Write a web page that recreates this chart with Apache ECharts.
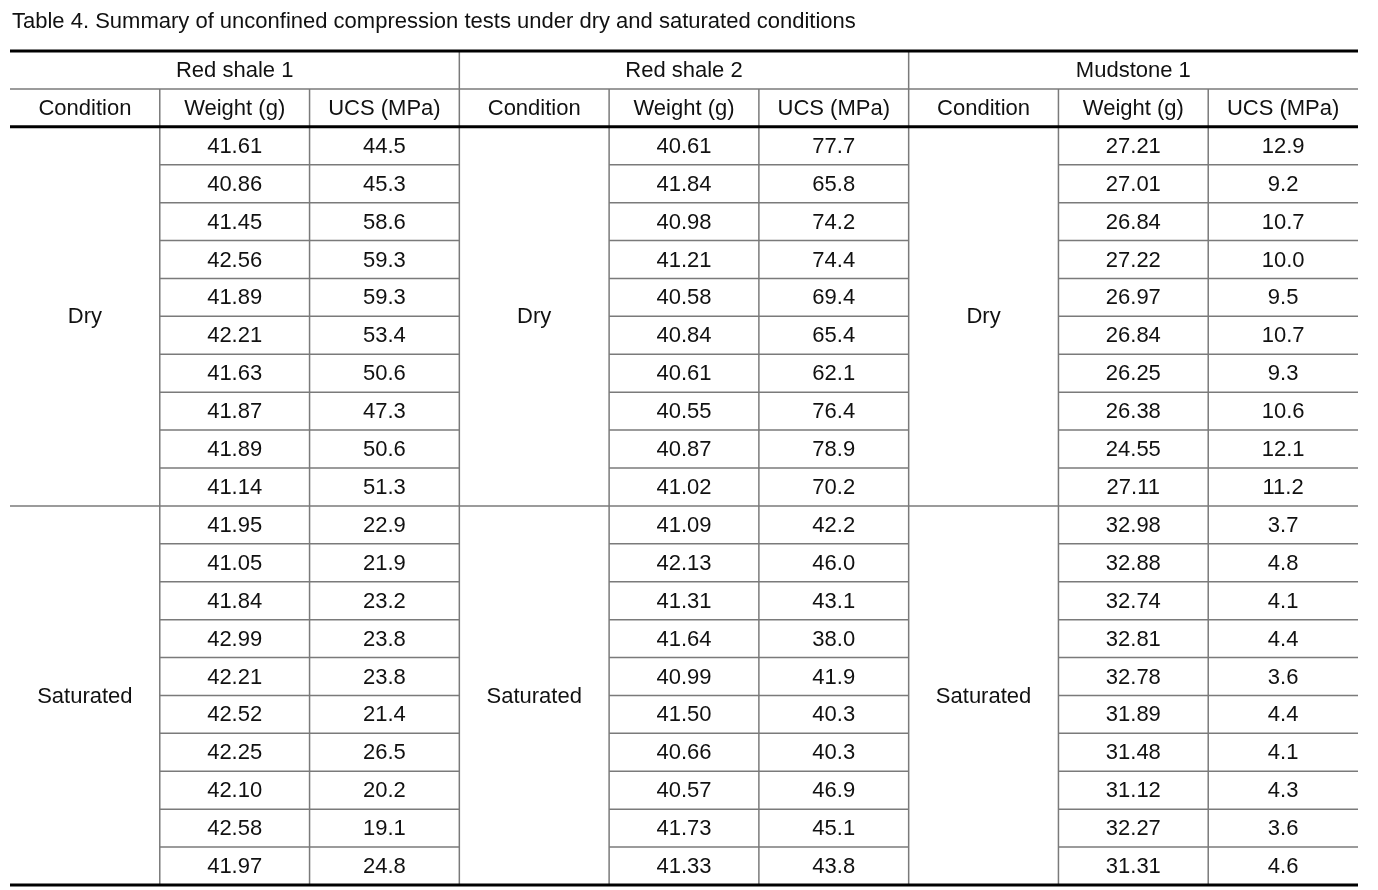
<!DOCTYPE html>
<html>
<head>
<meta charset="utf-8">
<script src="https://cdn.jsdelivr.net/npm/echarts@6/dist/echarts.min.js"></script>
<style>html,body{margin:0;padding:0;background:#fff;}#c{width:1378px;height:890px;}</style>
</head>
<body>
<div id="c"></div>
<script>
const titleText = 'Table 4. Summary of unconfined compression tests under dry and saturated conditions';
const groups = ['Red shale 1', 'Red shale 2', 'Mudstone 1'];
const columnHeaders = ['Condition', 'Weight (g)', 'UCS (MPa)'];
const conditions = ['Dry', 'Saturated'];

const rs1DryWeight = [41.61, 40.86, 41.45, 42.56, 41.89, 42.21, 41.63, 41.87, 41.89, 41.14];
const rs1DryUcs    = [44.5, 45.3, 58.6, 59.3, 59.3, 53.4, 50.6, 47.3, 50.6, 51.3];
const rs1SatWeight = [41.95, 41.05, 41.84, 42.99, 42.21, 42.52, 42.25, 42.10, 42.58, 41.97];
const rs1SatUcs    = [22.9, 21.9, 23.2, 23.8, 23.8, 21.4, 26.5, 20.2, 19.1, 24.8];

const rs2DryWeight = [40.61, 41.84, 40.98, 41.21, 40.58, 40.84, 40.61, 40.55, 40.87, 41.02];
const rs2DryUcs    = [77.7, 65.8, 74.2, 74.4, 69.4, 65.4, 62.1, 76.4, 78.9, 70.2];
const rs2SatWeight = [41.09, 42.13, 41.31, 41.64, 40.99, 41.50, 40.66, 40.57, 41.73, 41.33];
const rs2SatUcs    = [42.2, 46.0, 43.1, 38.0, 41.9, 40.3, 40.3, 46.9, 45.1, 43.8];

const ms1DryWeight = [27.21, 27.01, 26.84, 27.22, 26.97, 26.84, 26.25, 26.38, 24.55, 27.11];
const ms1DryUcs    = [12.9, 9.2, 10.7, 10.0, 9.5, 10.7, 9.3, 10.6, 12.1, 11.2];
const ms1SatWeight = [32.98, 32.88, 32.74, 32.81, 32.78, 31.89, 31.48, 31.12, 32.27, 31.31];
const ms1SatUcs    = [3.7, 4.8, 4.1, 4.4, 3.6, 4.4, 4.1, 4.3, 3.6, 4.6];

// ---- build table structure ----
const groupData = [
  [[rs1DryWeight, rs1DryUcs], [rs1SatWeight, rs1SatUcs]],
  [[rs2DryWeight, rs2DryUcs], [rs2SatWeight, rs2SatUcs]],
  [[ms1DryWeight, ms1DryUcs], [ms1SatWeight, ms1SatUcs]]
];
const nPer = rs1DryWeight.length;
const totalRows = 2 + conditions.length * nPer;
const totalCols = groups.length * 3;

const cells = [];
groups.forEach((g, gi) => {
  cells.push({ box: [gi * 3, 0, gi * 3 + 3, 1], text: g });
  columnHeaders.forEach((h, hi) => cells.push({ box: [gi * 3 + hi, 1, gi * 3 + hi + 1, 2], text: h }));
  conditions.forEach((cond, ci) => {
    const r0 = 2 + ci * nPer;
    cells.push({ box: [gi * 3, r0, gi * 3 + 1, r0 + nPer], text: cond });
    const [w, u] = groupData[gi][ci];
    for (let i = 0; i < nPer; i++) {
      cells.push({ box: [gi * 3 + 1, r0 + i, gi * 3 + 2, r0 + i + 1], text: w[i].toFixed(2) });
      cells.push({ box: [gi * 3 + 2, r0 + i, gi * 3 + 3, r0 + i + 1], text: u[i].toFixed(1) });
    }
  });
});

// rules: [x0, y0, x1, y1, kind]  kind 1 = thick, 0 = thin
const rules = [];
[0, 2, totalRows].forEach(r => rules.push([0, r, totalCols, r, 1]));
[1, 2 + nPer].forEach(r => rules.push([0, r, totalCols, r, 0]));
for (let ci = 0; ci < conditions.length; ci++) {
  for (let i = 1; i < nPer; i++) {
    const r = 2 + ci * nPer + i;
    for (let gi = 0; gi < groups.length; gi++) rules.push([gi * 3 + 1, r, gi * 3 + 3, r, 0]);
  }
}
for (let c = 1; c < totalCols; c++) {
  rules.push([c, c % 3 === 0 ? 0 : 1, c, totalRows, 0]);
}

const FONT = "'Liberation Sans', Arial, sans-serif";
const chart = echarts.init(document.getElementById('c'), null, { renderer: 'canvas' });
chart.setOption({
  animation: false,
  backgroundColor: '#fff',
  title: {
    text: titleText, left: 12, top: 11, padding: 0,
    textStyle: { fontFamily: FONT, fontSize: 22, fontWeight: 'normal', color: '#111' }
  },
  grid: { left: 10, right: 20, top: 51, bottom: 5 },
  xAxis: { type: 'value', min: 0, max: totalCols, show: false },
  yAxis: { type: 'value', min: 0, max: totalRows, inverse: true, show: false },
  series: [
    {
      type: 'custom',
      data: rules.map(r => r.slice(0, 4)),
      renderItem: (params, api) => {
        const r = rules[params.dataIndex];
        const p0 = api.coord([r[0], r[1]]);
        const p1 = api.coord([r[2], r[3]]);
        const thick = r[4] === 1;
        return {
          type: 'line', z2: thick ? 10 : 5,
          shape: { x1: p0[0], y1: p0[1], x2: p1[0], y2: p1[1] },
          style: { stroke: thick ? '#000' : '#7a7a7a', lineWidth: thick ? 3 : 1.5 }
        };
      }
    },
    {
      type: 'custom',
      data: cells.map(c => c.box),
      renderItem: (params, api) => {
        const c = cells[params.dataIndex];
        const p = api.coord([(c.box[0] + c.box[2]) / 2, (c.box[1] + c.box[3]) / 2]);
        return {
          type: 'text', x: p[0], y: p[1] + 1,
          style: { text: c.text, fontFamily: FONT, fontSize: 22, fill: '#111', align: 'center', verticalAlign: 'middle' }
        };
      }
    }
  ]
});
</script>
</body>
</html>
